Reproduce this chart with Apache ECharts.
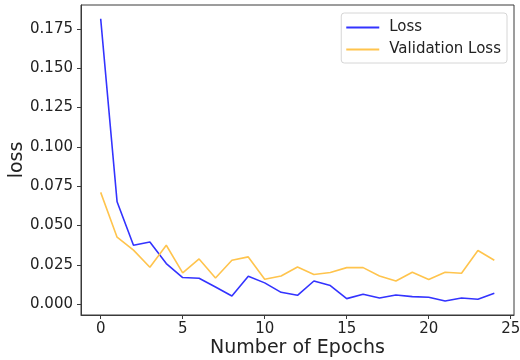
<!DOCTYPE html>
<html>
<head>
<meta charset="utf-8">
<script src="https://cdn.jsdelivr.net/npm/echarts@6/dist/echarts.min.js"></script>
<style>html,body{margin:0;padding:0;background:#fff}#c{width:520px;height:360px}</style>
</head>
<body>
<div id="c"></div>
<script>
const epochs = [0,1,2,3,4,5,6,7,8,9,10,11,12,13,14,15,16,17,18,19,20,21,22,23,24];
const loss = [0.1814,0.0651,0.0375,0.0396,0.0259,0.0170,0.0165,0.0110,0.0053,0.0178,0.0136,0.0076,0.0057,0.0148,0.0119,0.0036,0.0064,0.0040,0.0059,0.0049,0.0045,0.0021,0.0040,0.0032,0.0070];
const valLoss = [0.0711,0.0426,0.0344,0.0235,0.0375,0.0199,0.0288,0.0167,0.0280,0.0301,0.0159,0.0180,0.0237,0.0189,0.0202,0.0233,0.0233,0.0180,0.0148,0.0204,0.0157,0.0204,0.0197,0.0342,0.0280];
const xTicks = [0,5,10,15,20,25];
const yTicks = [0,0.025,0.05,0.075,0.1,0.125,0.15,0.175];

const FONT = 'DejaVu Sans';
const chart = echarts.init(document.getElementById('c'), null, {renderer:'canvas'});
chart.setOption({
  animation:false,
  backgroundColor:'#fff',
  grid:{left:81,right:6,top:5,bottom:45,show:true,borderColor:'#3a3a3a',borderWidth:1,backgroundColor:'transparent',
        containLabel:false,outerBoundsMode:'none'},
  legend:{
    orient:'vertical', right:13, top:13,
    data:[{name:'Loss'},{name:'Validation Loss'}],
    icon:'rect', itemWidth:33, itemHeight:2, itemGap:7,
    textStyle:{fontFamily:FONT,fontSize:15,color:'#222',padding:[0,0,0,5]},
    borderColor:'#d6d6d6', borderWidth:1, borderRadius:3,
    padding:[7,6,6,5], backgroundColor:'#fff'
  },
  xAxis:{
    type:'value', min:-1.2, max:25.2,
    name:'Number of Epochs', nameLocation:'middle', nameGap:24, nameMoveOverlap:false,
    nameTextStyle:{fontFamily:FONT,fontSize:19,color:'#222',verticalAlign:'top'},
    axisLine:{show:true,onZero:false,lineStyle:{color:'#3a3a3a'}},
    axisTick:{show:true,length:4,customValues:xTicks,lineStyle:{color:'#3a3a3a'}},
    axisLabel:{customValues:xTicks,fontFamily:FONT,fontSize:15,color:'#222',margin:7},
    splitLine:{show:false}
  },
  yAxis:{
    type:'value', min:-0.0068, max:0.1901,
    name:'loss', nameLocation:'middle', nameGap:54, nameRotate:90, nameMoveOverlap:false,
    nameTextStyle:{fontFamily:FONT,fontSize:19,color:'#222'},
    axisLine:{show:true,onZero:false,lineStyle:{color:'#3a3a3a'}},
    axisTick:{show:true,length:4,customValues:yTicks,lineStyle:{color:'#3a3a3a'}},
    axisLabel:{customValues:yTicks,fontFamily:FONT,fontSize:15,color:'#222',margin:8,
      formatter:v=>v.toFixed(3)},
    splitLine:{show:false}
  },
  series:[
    {name:'Loss',type:'line',data:epochs.map((e,i)=>[e,loss[i]]),showSymbol:false,symbol:'none',
     lineStyle:{color:'#3333ff',width:1.6},itemStyle:{color:'#3333ff'}},
    {name:'Validation Loss',type:'line',data:epochs.map((e,i)=>[e,valLoss[i]]),showSymbol:false,symbol:'none',
     lineStyle:{color:'#ffc44d',width:1.6},itemStyle:{color:'#ffc44d'}}
  ]
});
</script>
</body>
</html>
